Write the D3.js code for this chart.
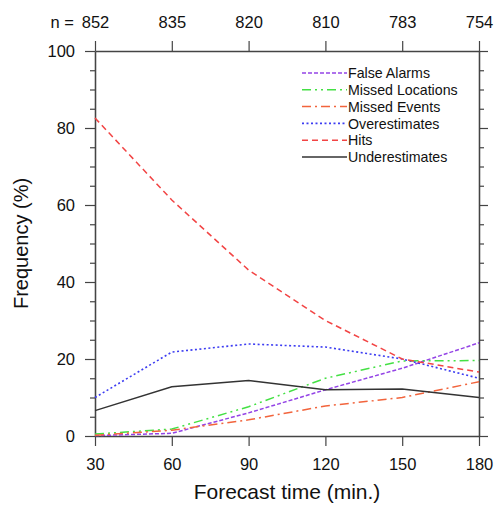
<!DOCTYPE html>
<html>
<head>
<meta charset="utf-8">
<script src="https://cdn.jsdelivr.net/npm/d3@7"></script>
<style>
	body { margin: 0; background: #fff; }
	svg text { font-family: "Liberation Sans", Helvetica, Arial, sans-serif; fill: #111; }
</style>
</head>
<body>
<svg id="svg" width="497" height="506"></svg>
<script>
// forecast lead times (min.) and sample sizes along the top axis
const forecastTimes = [30, 60, 90, 120, 150, 180];
const sampleSizes = [852, 835, 820, 810, 783, 754];
const yTicks = [0, 20, 40, 60, 80, 100];

// frequency (%) per lead time
const falseAlarms = [0.1, 0.7, 6.0, 12.0, 17.6, 24.2];
const missedLocations = [0.5, 1.8, 7.6, 15.0, 19.5, 19.6];
const missedEvents = [0.2, 1.5, 4.2, 7.8, 10.0, 14.1];
const overestimates = [10.0, 21.8, 23.9, 23.1, 20.0, 15.0];
const hits = [82.6, 61.3, 43.1, 30.0, 20.0, 16.6];
const underestimates = [6.6, 12.8, 14.4, 12.0, 12.2, 10.0];

const seriesNames = ['False Alarms', 'Missed Locations', 'Missed Events', 'Overestimates', 'Hits', 'Underestimates'];

const series = [
	{ name: seriesNames[0], values: falseAlarms, color: '#9444e6', dash: '4,2', width: 1.5 },
	{ name: seriesNames[1], values: missedLocations, color: '#44e044', dash: '9,4,2,4,2,4', width: 1.5 },
	{ name: seriesNames[2], values: missedEvents, color: '#f2643c', dash: '9,4,2,4', width: 1.5 },
	{ name: seriesNames[3], values: overestimates, color: '#3c3cf2', dash: '2,2.5', width: 1.6 },
	{ name: seriesNames[4], values: hits, color: '#f24444', dash: '6,4', width: 1.5 },
	{ name: seriesNames[5], values: underestimates, color: '#333', dash: null, width: 1.4 }
];

const margin = { top: 51, right: 18, bottom: 70, left: 95 };
const width = 479 - margin.left;   // plot box: 95..479
const height = 436 - margin.top;   // plot box: 51..436

const svg = d3.select('#svg');
const g = svg.append('g').attr('transform', `translate(${margin.left}, ${margin.top})`);

const x = d3.scaleLinear().domain([30, 180]).range([0, width]);
const y = d3.scaleLinear().domain([0, 100]).range([height, 0]);

const axisColor = '#444';

// minor ticks every 5 % on the y axes
const minorY = d3.range(0, 101, 5).filter(v => v % 20 !== 0);

function styleAxis(sel) {
	sel.select('.domain').attr('stroke', axisColor).attr('stroke-width', 1.3);
	sel.selectAll('.tick line').attr('stroke', axisColor).attr('stroke-width', 1.2);
	sel.selectAll('.tick text').attr('fill', '#111');
}

// bottom
g.append('g')
	.attr('transform', `translate(0, ${height})`)
	.call(d3.axisBottom(x).tickValues(forecastTimes).tickSize(10).tickSizeOuter(0).tickPadding(12))
	.call(styleAxis)
	.selectAll('text').style('font-size', '16.5px');

// top: sample sizes
const topAxis = g.append('g')
	.call(d3.axisTop(x).tickValues(forecastTimes).tickSize(10).tickSizeOuter(0).tickPadding(13)
		.tickFormat((d, i) => sampleSizes[i]))
	.call(styleAxis);
topAxis.selectAll('text').style('font-size', '16.5px');

g.append('text')
	.attr('x', x(30) - 21)
	.attr('y', -23)
	.attr('text-anchor', 'end')
	.style('font-size', '16.5px')
	.text('n =');

// left
g.append('g')
	.call(d3.axisLeft(y).tickValues(yTicks).tickSize(10).tickSizeOuter(0).tickPadding(10))
	.call(styleAxis)
	.selectAll('text').style('font-size', '16.5px');
g.append('g')
	.call(d3.axisLeft(y).tickValues(minorY).tickSize(5).tickSizeOuter(0).tickFormat(''))
	.call(styleAxis);

// right
g.append('g')
	.attr('transform', `translate(${width}, 0)`)
	.call(d3.axisRight(y).tickValues(yTicks).tickSize(9).tickSizeOuter(0).tickFormat(''))
	.call(styleAxis);
g.append('g')
	.attr('transform', `translate(${width}, 0)`)
	.call(d3.axisRight(y).tickValues(minorY).tickSize(5).tickSizeOuter(0).tickFormat(''))
	.call(styleAxis);

// lines
const line = d3.line()
	.x((d, i) => x(forecastTimes[i]))
	.y(d => y(d));

g.selectAll('.series')
	.data(series)
	.enter().append('path')
	.attr('class', 'series')
	.attr('d', d => line(d.values))
	.attr('fill', 'none')
	.attr('stroke', d => d.color)
	.attr('stroke-width', d => d.width)
	.attr('stroke-dasharray', d => d.dash);

// legend
const legend = svg.append('g').attr('transform', 'translate(302, 73)');
const rowH = 16.8;
const rows = legend.selectAll('g')
	.data(series)
	.enter().append('g')
	.attr('transform', (d, i) => `translate(0, ${i * rowH})`);
rows.append('line')
	.attr('x1', 0).attr('x2', 45)
	.attr('stroke', d => d.color)
	.attr('stroke-width', d => d.width)
	.attr('stroke-dasharray', d => d.dash);
rows.append('text')
	.attr('x', 46)
	.attr('dy', '0.36em')
	.style('font-size', '14.2px')
	.text(d => d.name);

// axis titles
svg.append('text')
	.attr('x', margin.left + width / 2)
	.attr('y', 499)
	.attr('text-anchor', 'middle')
	.style('font-size', '21px')
	.text('Forecast time (min.)');

svg.append('text')
	.attr('transform', `translate(28, ${margin.top + height / 2}) rotate(-90)`)
	.attr('text-anchor', 'middle')
	.style('font-size', '20px')
	.text('Frequency (%)');
</script>
</body>
</html>
